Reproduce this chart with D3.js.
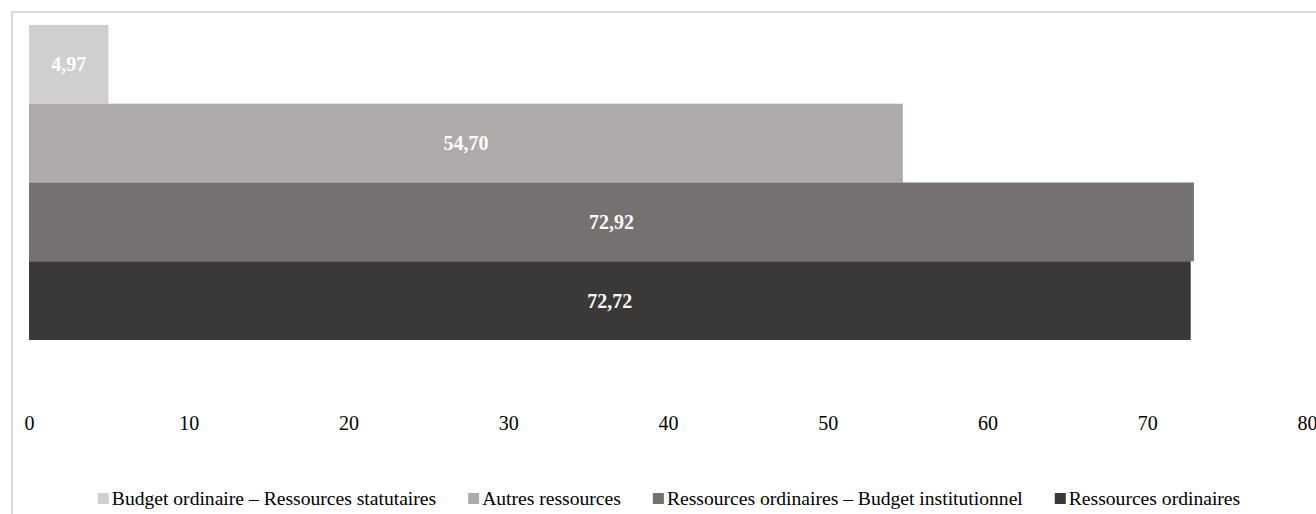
<!DOCTYPE html>
<html>
<head>
<meta charset="utf-8">
<script src="https://cdn.jsdelivr.net/npm/d3@7"></script>
<style>
  html, body { margin: 0; padding: 0; background: #fff; }
  svg { display: block; }
  text { font-family: "Liberation Serif", "Times New Roman", serif; }
</style>
</head>
<body>
<svg id="chart" width="1316" height="514"></svg>
<script>
// Series (one bar each), drawn top to bottom
const seriesNames = [
  "Budget ordinaire – Ressources statutaires",
  "Autres ressources",
  "Ressources ordinaires – Budget institutionnel",
  "Ressources ordinaires"
];
const seriesValues = [4.97, 54.70, 72.92, 72.72];
const seriesColors = ["#D0CECE", "#AEAAAA", "#757171", "#3B3838"];
const tickValues = [0, 10, 20, 30, 40, 50, 60, 70, 80];

const svg = d3.select("#chart");
const W = 1316, H = 514;

// Chart area border
svg.append("rect")
  .attr("x", 12).attr("y", 12)
  .attr("width", W + 20).attr("height", H + 20)
  .attr("fill", "none")
  .attr("stroke", "#D9D9D9")
  .attr("stroke-width", 2);

const x = d3.scaleLinear().domain([0, 80]).range([29, 1307]);
const y = d3.scaleBand().domain(seriesNames).range([25, 340]).padding(0);

const fmt = v => v.toFixed(2).replace(".", ",");

// Bars
svg.append("g").selectAll("rect")
  .data(seriesNames)
  .join("rect")
  .attr("x", x(0))
  .attr("y", d => y(d))
  .attr("width", (d, i) => x(seriesValues[i]) - x(0))
  .attr("height", y.bandwidth())
  .attr("fill", (d, i) => seriesColors[i]);

// Value labels centred in each bar
svg.append("g").selectAll("text")
  .data(seriesNames)
  .join("text")
  .attr("x", (d, i) => (x(0) + x(seriesValues[i])) / 2)
  .attr("y", d => y(d) + y.bandwidth() / 2)
  .attr("dy", "0.35em")
  .attr("text-anchor", "middle")
  .attr("fill", "#FFFFFF")
  .attr("font-weight", "bold")
  .attr("font-size", 20)
  .text((d, i) => fmt(seriesValues[i]));

// Horizontal axis (labels only, no line or tick marks)
const axis = d3.axisBottom(x)
  .tickValues(tickValues)
  .tickSize(0)
  .tickPadding(0)
  .tickFormat(d3.format("d"));

const axisG = svg.append("g")
  .attr("transform", "translate(0,410)")
  .call(axis);
axisG.select(".domain").remove();
axisG.selectAll("text")
  .attr("font-family", "Liberation Serif, Times New Roman, serif")
  .attr("font-size", 20)
  .attr("fill", "#000")
  .attr("dy", "1em");

// Legend
const legend = svg.append("g");
const items = legend.selectAll("g")
  .data(seriesNames)
  .join("g");
items.append("rect")
  .attr("width", 11).attr("height", 11)
  .attr("y", -12)
  .attr("fill", (d, i) => seriesColors[i]);
items.append("text")
  .attr("x", 14)
  .attr("font-size", 19.6)
  .attr("fill", "#000")
  .text(d => d);

const gap = 32;
let cursor = 0;
const offsets = [];
items.each(function () {
  const w = 14 + d3.select(this).select("text").node().getComputedTextLength();
  offsets.push(cursor);
  cursor += w + gap;
});
const total = cursor - gap;
const startX = 669 - total / 2;
items.attr("transform", (d, i) => `translate(${startX + offsets[i]},505)`);
</script>
</body>
</html>
